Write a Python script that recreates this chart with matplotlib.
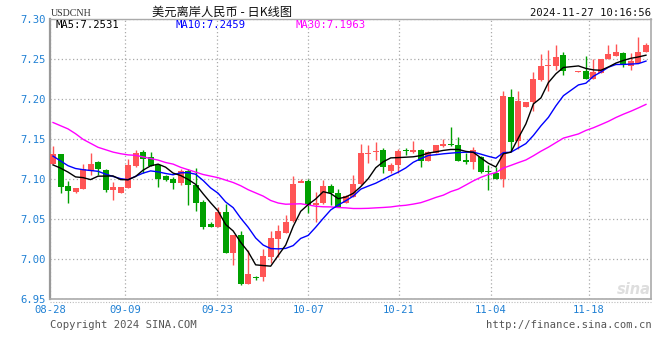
import numpy as np
import pandas as pd
import matplotlib
matplotlib.use("Agg")
import matplotlib.pyplot as plt
from matplotlib.lines import Line2D

# ---------------- data ----------------
opens = [7.1190, 7.1320, 7.0920, 7.0845, 7.0880, 7.1110, 7.1210, 7.1120, 7.0866, 7.0835,
         7.0890, 7.1170, 7.1340, 7.1275, 7.1180, 7.1040, 7.1010, 7.0960, 7.1110, 7.0933,
         7.0716, 7.0440, 7.0400, 7.0590, 7.0083, 7.0300, 6.9690, 6.9783, 6.9775, 7.0030,
         7.0250, 7.0330, 7.0480, 7.0950, 7.0980, 7.0680, 7.0700, 7.0916, 7.0825, 7.0710,
         7.0780, 7.0940, 7.1320, 7.1338, 7.1366, 7.1108, 7.1175, 7.1352, 7.1341, 7.1366,
         7.1233, 7.1335, 7.1416, 7.1428, 7.1425, 7.1241, 7.1220, 7.1275, 7.1093, 7.1083,
         7.1000, 7.2025, 7.1483, 7.1908, 7.1970, 7.2241, 7.2420, 7.2416, 7.2550, np.nan,
         7.2343, 7.2350, 7.2258, 7.2333, 7.2508, 7.2541, 7.2583, 7.2416, 7.2458, 7.2591]
closes = [7.1315, 7.0910, 7.0860, 7.0890, 7.1130, 7.1190, 7.1125, 7.0866, 7.0900, 7.0900,
          7.1180, 7.1330, 7.1260, 7.1170, 7.1008, 7.0990, 7.0960, 7.1110, 7.0925, 7.0700,
          7.0400, 7.0400, 7.0590, 7.0083, 7.0300, 6.9690, 6.9810, 6.9770, 7.0040, 7.0260,
          7.0360, 7.0460, 7.0940, 7.0980, 7.0680, 7.0710, 7.0916, 7.0825, 7.0658, 7.0785,
          7.0940, 7.1333, 7.1325, 7.1340, 7.1158, 7.1183, 7.1350, 7.1350, 7.1366, 7.1233,
          7.1341, 7.1425, 7.1441, 7.1425, 7.1233, 7.1220, 7.1366, 7.1095, 7.1090, 7.1000,
          7.2041, 7.1470, 7.1983, 7.1966, 7.2250, 7.2416, 7.2430, 7.2533, 7.2360, np.nan,
          7.2347, 7.2258, 7.2341, 7.2508, 7.2566, 7.2591, 7.2425, 7.2475, 7.2591, 7.2675]
highs = [7.1420, 7.1320, 7.0975, 7.0891, 7.1190, 7.1325, 7.1233, 7.1135, 7.0970, 7.0904,
         7.1260, 7.1370, 7.1370, 7.1340, 7.1183, 7.1055, 7.1035, 7.1133, 7.1130, 7.1140,
         7.0741, 7.0466, 7.0658, 7.0691, 7.0300, 7.0358, 7.0116, 6.9790, 7.0133, 7.0358,
         7.0433, 7.0558, 7.1041, 7.1008, 7.1008, 7.0841, 7.0991, 7.0941, 7.0883, 7.0808,
         7.1054, 7.1441, 7.1430, 7.1466, 7.1391, 7.1208, 7.1375, 7.1390, 7.1475, 7.1375,
         7.1358, 7.1433, 7.1508, 7.1650, 7.1525, 7.1333, 7.1400, 7.1290, 7.1175, 7.1158,
         7.2100, 7.2133, 7.2108, 7.1970, 7.2341, 7.2566, 7.2620, 7.2683, 7.2591, np.nan,
         7.2350, 7.2541, 7.2500, 7.2508, 7.2683, 7.2691, 7.2591, 7.2583, 7.2775, 7.2700]
lows = [7.1190, 7.0833, 7.0700, 7.0825, 7.0880, 7.1058, 7.1050, 7.0837, 7.0737, 7.0833,
        7.0890, 7.1160, 7.1075, 7.1166, 7.0900, 7.0980, 7.0875, 7.0933, 7.0683, 7.0600,
        7.0375, 7.0400, 7.0400, 7.0083, 6.9933, 6.9683, 6.9690, 6.9745, 6.9725, 6.9950,
        7.0033, 7.0333, 7.0466, 7.0975, 7.0575, 7.0466, 7.0690, 7.0675, 7.0658, 7.0700,
        7.0775, 7.0930, 7.1205, 7.1241, 7.1083, 7.1075, 7.1075, 7.1300, 7.1325, 7.1158,
        7.1233, 7.1330, 7.1410, 7.1416, 7.1233, 7.1191, 7.1133, 7.1083, 7.0866, 7.1000,
        7.0900, 7.1350, 7.1383, 7.1908, 7.1858, 7.2225, 7.2110, 7.2366, 7.2308, np.nan,
        7.2343, 7.2250, 7.2258, 7.2333, 7.2500, 7.2541, 7.2400, 7.2366, 7.2458, 7.2591]

# moving-average values at the left edge (history before the window)
ma5_head = [7.118, 7.114, 7.109, 7.103]
ma10_head = [7.129, 7.123, 7.117, 7.1135, 7.112, 7.111, 7.110, 7.1065, 7.1035]
ma30_head = [7.171, 7.167, 7.163, 7.157, 7.150, 7.145, 7.140, 7.137, 7.134, 7.132,
             7.1305, 7.130, 7.128, 7.126, 7.124, 7.121, 7.119, 7.115, 7.112, 7.109,
             7.106, 7.104, 7.102, 7.099, 7.096, 7.092, 7.087, 7.083, 7.079]

ma_legend = ["MA5:7.2531", "MA10:7.2459", "MA30:7.1963"]
tick_labels = ["08-28", "09-09", "09-23", "10-07", "10-21", "11-04", "11-18"]
tick_pos = [-0.4, 9.6, 21.9, 34.0, 46.1, 58.3, 71.4]
y_ticks = [6.95, 7.00, 7.05, 7.10, 7.15, 7.20, 7.25, 7.30]

# ---------------- figure ----------------
W, H = 660, 360
fig = plt.figure(figsize=(W / 100, H / 100), dpi=100)
fig.patch.set_facecolor("white")
L_PX, R_PX, T_PX, B_PX = 50, 651, 19.3, 299.3
ax = fig.add_axes([L_PX / W, 1 - B_PX / H, (R_PX - L_PX) / W, (B_PX - T_PX) / H])

mono = "DejaVu Sans Mono"
blue_lbl = "#1f80d4"
RED, GREEN = "#ff5555", "#00a000"

O = np.array(opens, float)
C = np.array(closes, float)
Hh = np.array(highs, float)
Ll = np.array(lows, float)
x = np.arange(len(C))
ok = ~np.isnan(C)
cols = np.where(C >= O, RED, GREEN)

ax.vlines(x[ok], Ll[ok], Hh[ok], colors=cols[ok], linewidth=1.0, zorder=3)
body_b = np.minimum(O, C)
body_h = np.maximum(np.abs(C - O), 0.0013)
ax.bar(x[ok], body_h[ok], bottom=body_b[ok], width=0.8, color=cols[ok],
       linewidth=0, zorder=4)

# moving averages
s = pd.Series(C)
valid = s.dropna()
def ma(n, head):
    m = valid.rolling(n).mean()
    m.iloc[:len(head)] = head
    return m

for n, head, c in [(30, ma30_head, "#ff00ff"), (10, ma10_head, "#0000ff"), (5, ma5_head, "#000000")]:
    m = ma(n, head)
    ax.plot(m.index, m.values, color=c, linewidth=1.0, zorder=5)

ax.set_xlim(-0.4, 79.67)
ax.set_ylim(6.95, 7.30)
ax.set_yticks(y_ticks)
ax.set_yticklabels([f"{v:.2f}" for v in y_ticks])
ax.set_xticks(tick_pos)
ax.set_xticklabels(tick_labels)
ax.tick_params(axis="both", length=0, labelsize=7.6, labelcolor=blue_lbl)
ax.tick_params(axis="y", pad=3)
ax.tick_params(axis="x", pad=4)
for lab in ax.get_xticklabels() + ax.get_yticklabels():
    lab.set_fontfamily(mono)
ax.grid(True, color="#aaaaaa", linestyle=(0, (1, 2)), linewidth=0.9, zorder=0)
ax.set_axisbelow(True)
for side, lw, col in [("left", 1.6, "#999999"), ("bottom", 1.2, "#aaaaaa"),
                      ("top", 1.0, "#aaaaaa"), ("right", 1.2, "#aaaaaa")]:
    ax.spines[side].set_linewidth(lw)
    ax.spines[side].set_color(col)

def px(xp, yp):
    return xp / W, 1 - yp / H

# dotted rule just below the bottom frame
fig.add_artist(Line2D([L_PX / W, R_PX / W], [1 - 302 / H, 1 - 302 / H],
                      color="#bbbbbb", linestyle=(0, (1, 1.5)), linewidth=0.8))

# header
fig.text(*px(51, 13), "USDCNH", family="Liberation Serif", fontsize=7.2,
         color="#333333", va="center", ha="left")
fig.text(*px(222, 12), "美元离岸人民币 - 日K线图",
         family=["Noto Sans CJK SC", "DejaVu Sans"], fontsize=8.8, color="#111111",
         va="center", ha="center")
fig.text(*px(651, 13), "2024-11-27 10:16:56", family=mono, fontsize=7.6,
         color="#111111", va="center", ha="right")

# MA legend inside plot
for txt, xp, c in zip(ma_legend, [55, 175, 296], ["#000000", "#0000ff", "#ff00ff"]):
    fig.text(*px(xp, 25.5), txt, family=mono, fontsize=7.6, color=c,
             va="center", ha="left")

# footer
fig.text(*px(50, 325), "Copyright 2024 SINA.COM", family=mono, fontsize=7.6,
         color="#555555", va="center", ha="left")
fig.text(*px(652, 325), "http://finance.sina.com.cn", family=mono, fontsize=7.6,
         color="#555555", va="center", ha="right")

# watermark
fig.text(*px(634, 289), "sina", family="DejaVu Sans", fontsize=10.5, style="italic",
         weight="bold", color="#dedede", va="center", ha="center", zorder=1)

fig.savefig("out.png", dpi=100, facecolor="white")
